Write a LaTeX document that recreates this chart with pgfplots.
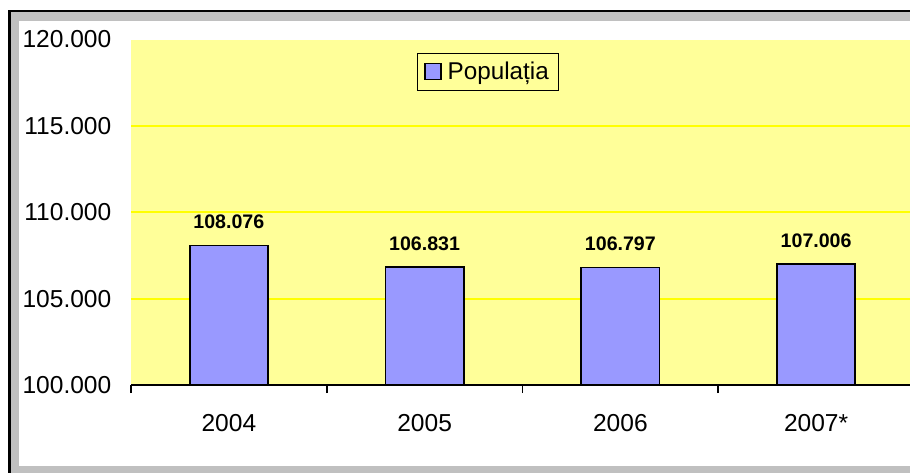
\documentclass[border=0pt]{standalone}
\usepackage{pgfplots}
\pgfplotsset{compat=1.18}
\usepackage{fontspec}
\setmainfont{Liberation Sans}
\definecolor{plotyellow}{HTML}{FFFF99}
\definecolor{gridyellow}{HTML}{FFFF00}
\definecolor{barblue}{HTML}{9999FF}
\definecolor{framegray}{HTML}{C0C0C0}
\begin{document}
\begin{tikzpicture}
\path[use as bounding box] (0,0) rectangle (682.5pt,354pt);
\clip (0,0) rectangle (682.5pt,354pt);
\fill[black] (6.2pt,-20pt) rectangle (720pt,346.5pt);
\fill[framegray] (8.25pt,-20pt) rectangle (720pt,345pt);
\fill[white] (14.6pt,4.5pt) rectangle (720pt,338.5pt);
\begin{axis}[
  at={(98.25pt,65.25pt)}, anchor=south west,
  scale only axis, width=587.25pt, height=259.1pt,
  xmin=-0.5, xmax=3.5, ymin=100000, ymax=120000,
  axis background/.style={fill=plotyellow},
  axis lines*=left,
  y axis line style={draw=none},
  x axis line style={line width=1.2pt},
  xtick={0,1,2,3}, xticklabels={2004,2005,2006,2007*},
  minor xtick={-0.5,0.5,1.5,2.5,3.5},
  major x tick style={draw=none},
  minor x tick style={black, line width=1.2pt},
  minor tick length=6pt,
  tick align=outside,
  ytick={100000,105000,110000,115000,120000},
  yticklabels={100.000,105.000,110.000,115.000,120.000},
  major y tick style={draw=none},
  scaled y ticks=false,
  extra y ticks={105000,110000,115000},
  extra y tick labels={},
  extra y tick style={grid=major, major grid style={gridyellow, line width=1.5pt}},
  ticklabel style={font=\fontsize{18.4}{21}\selectfont},
  yticklabel style={xshift=-7pt},
  xticklabel style={yshift=-14pt},
  legend style={at={(0.3653,0.962)}, anchor=north west, draw=black, line width=1pt,
    fill=plotyellow, font=\fontsize{18.2}{21}\selectfont, inner xsep=5pt, inner ysep=4.5pt},
  legend image code/.code={\draw[draw=black, fill=barblue, line width=1pt] (0pt,-6pt) rectangle (12pt,6pt);},
]
\addplot[ybar, bar width=0.4, draw=black, fill=barblue, line width=1.2pt,
  point meta=explicit symbolic, nodes near coords,
  nodes near coords style={font=\bfseries\fontsize{14.7}{16}\selectfont, yshift=8.4pt, black}]
  table[x=x, y=y, meta=lab] {
x y lab
0 108076 108.076
1 106831 106.831
2 106797 106.797
3 107006 107.006
};
\addlegendentry{\hspace{2.5pt}Populația\hspace{4pt}}
\end{axis}
\end{tikzpicture}
\end{document}
